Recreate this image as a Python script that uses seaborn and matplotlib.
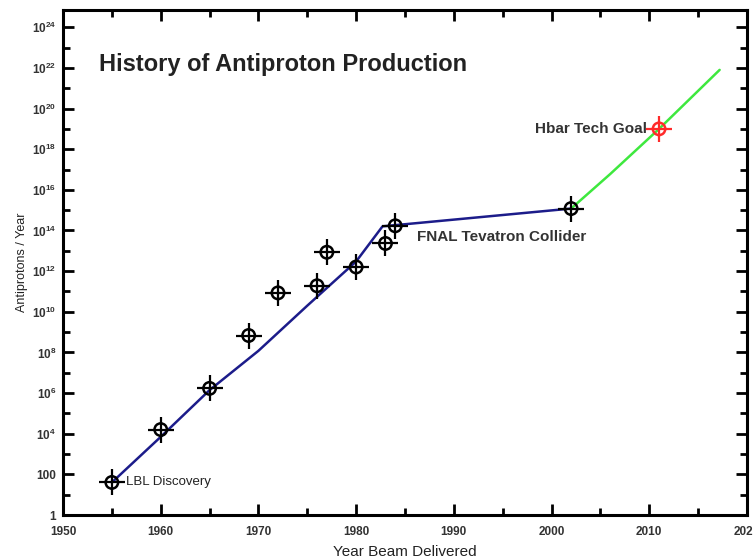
import matplotlib
matplotlib.use("Agg")
import matplotlib.pyplot as plt
import seaborn as sns
import pandas as pd
import numpy as np
from matplotlib.ticker import FixedLocator, FixedFormatter, NullFormatter

# ---- data ----
point_years = [1955, 1960, 1965, 1969, 1972, 1976, 1977, 1980, 1983, 1984, 2002]
point_values = [40, 1.6e4, 1.7e6, 6.8e8, 8.5e10, 1.9e11, 8.5e12, 1.6e12, 2.3e13, 1.7e14, 1.2e15]

goal_year = [2011]
goal_value = [1e19]

trend_years = [1955, 1960, 1965, 1970, 1975, 1980, 1982.7, 2002]
trend_values = [40, 7e3, 1.4e6, 1.2e8, 2e10, 3e12, 1.6e14, 1.2e15]

future_years = [2002, 2006, 2011, 2017.2]
future_values = [1.2e15, 6e16, 1e19, 8e21]

ytick_exps = list(range(0, 25, 2))
ytick_labels = ["1", "100"] + [f"$10^{{{e}}}$" for e in range(4, 25, 2)]
xtick_years = list(range(1950, 2021, 10))

sns.set_theme(style="white")
plt.rcParams['font.family'] = ['Liberation Sans', 'DejaVu Sans']
plt.rcParams['mathtext.fontset'] = 'custom'
plt.rcParams['mathtext.rm'] = 'Liberation Sans:bold'
plt.rcParams['mathtext.it'] = 'Liberation Sans:bold'
plt.rcParams['mathtext.bf'] = 'Liberation Sans:bold'

fig = plt.figure(figsize=(7.53, 5.6), dpi=100)
ax = fig.add_axes([63/753, 1 - 515/560, (747 - 63)/753, (515 - 10)/560])

df_trend = pd.DataFrame({"year": trend_years, "value": trend_values})
df_future = pd.DataFrame({"year": future_years, "value": future_values})
df_pts = pd.DataFrame({"year": point_years, "value": point_values})
df_goal = pd.DataFrame({"year": goal_year, "value": goal_value})

sns.lineplot(data=df_trend, x="year", y="value", color="#1c1c8a", lw=1.8, ax=ax, sort=False)
sns.lineplot(data=df_future, x="year", y="value", color="#3ee83e", lw=1.8, ax=ax, sort=False)

for d, c in [(df_pts, "black"), (df_goal, "#ff2a2a")]:
    sns.scatterplot(data=d, x="year", y="value", marker="o", s=80, facecolor="none",
                    edgecolor=c, linewidth=1.8, ax=ax, zorder=5)
    sns.scatterplot(data=d, x="year", y="value", marker="+", s=340, color=c,
                    linewidth=1.6, ax=ax, zorder=5)

ax.set_yscale("log")
ax.set_xlim(1950, 2020)
ax.set_ylim(1, 10**24.85)

ax.yaxis.set_major_locator(FixedLocator([10.0**e for e in ytick_exps]))
ax.yaxis.set_major_formatter(FixedFormatter(ytick_labels))
ax.yaxis.set_minor_locator(FixedLocator([10.0**e for e in range(1, 25, 2)]))
ax.yaxis.set_minor_formatter(NullFormatter())
ax.set_xticks(xtick_years)
ax.set_xticklabels([str(y) for y in xtick_years])
ax.set_xticks(list(range(1955, 2020, 10)), minor=True)

ax.tick_params(which="major", direction="in", length=8, width=2, top=True, right=True,
               labelsize=8.5, labelcolor="#333333", color="black")
ax.tick_params(which="minor", direction="in", length=5, width=2, top=True, right=True, color="black")
ax.tick_params(axis="y", which="both", left=True, pad=5)
ax.tick_params(axis="x", which="both", bottom=True, pad=8)
for lab in ax.get_xticklabels() + ax.get_yticklabels():
    lab.set_fontweight("bold")

for sp in ax.spines.values():
    sp.set_visible(True)
    sp.set_color("black")
    sp.set_linewidth(2.2)

ax.set_xlabel("Year Beam Delivered", fontsize=11, color="#222222", labelpad=5)
ax.set_ylabel("Antiprotons / Year", fontsize=9, color="#222222", labelpad=3)

ax.text(0.052, 0.88, "History of Antiproton Production", transform=ax.transAxes,
        fontsize=17, fontweight="bold", color="#222222")
ax.text(1956.4, 40, "LBL Discovery", fontsize=9.5, color="#222222", va="center")
ax.text(1986.2, 10**13.7, "FNAL Tevatron Collider", fontsize=11, fontweight="bold",
        color="#333333", va="center")
ax.text(2009.8, 1e19, "Hbar Tech Goal", fontsize=11, fontweight="bold",
        color="#333333", va="center", ha="right")

fig.savefig("out.png", dpi=100)
